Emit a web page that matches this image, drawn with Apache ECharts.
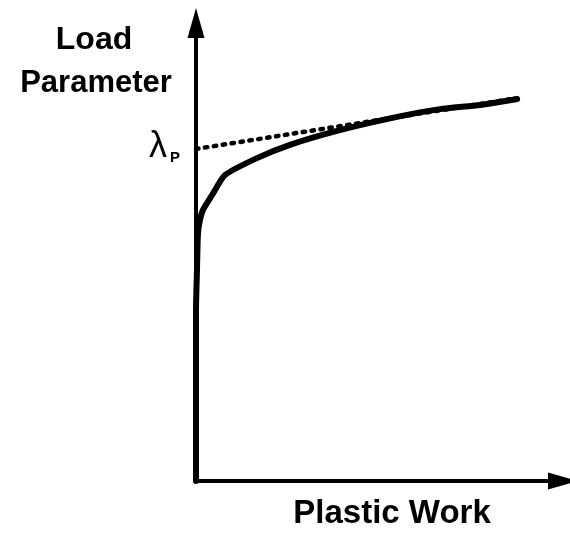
<!DOCTYPE html>
<html>
<head>
<meta charset="utf-8">
<script src="https://cdn.jsdelivr.net/npm/echarts@6/dist/echarts.min.js"></script>
<style>html,body{margin:0;padding:0;background:#fff;}#c{width:570px;height:534px;}</style>
</head>
<body>
<div id="c"></div>
<script>
// Load-parameter vs plastic-work curve (arbitrary units 0..100)
var plasticWork = [0, 0, 0.27, 0.54, 1.09, 1.91, 4.36, 7.9, 16.6, 25.6, 39.2, 54.8, 66.5, 77.4, 87.5];
var loadParam   = [0, 37.3, 46.1, 54.1, 57.0, 59.2, 62.4, 66.8, 70.5, 73.4, 76.6, 79.5, 81.2, 82.1, 83.4];
// Tangent (extrapolated) line giving lambda_P
var tangentX = [0, 87.5];
var tangentY = [72.5, 83.6];
var lambdaP = 72.5;
var xAxisTitle = 'Plastic Work';
var yAxisTitle = ['Load', 'Parameter'];

var chart = echarts.init(document.getElementById('c'), null, {renderer: 'canvas'});
var font = '"Liberation Sans", Arial, sans-serif';
function pairs(xs, ys) { return xs.map(function (x, i) { return [x, ys[i]]; }); }

chart.setOption({
  animation: false,
  backgroundColor: '#ffffff',
  grid: {left: 196, right: 7, top: 23, bottom: 53},
  xAxis: {
    type: 'value', min: 0, max: 100,
    axisLine: {show: true, onZero: false, symbol: ['none', 'triangle'], symbolSize: [17, 30],
      lineStyle: {color: '#000', width: 4}},
    axisTick: {show: false}, axisLabel: {show: false}, splitLine: {show: false}
  },
  yAxis: {
    type: 'value', min: 0, max: 100,
    axisLine: {show: true, onZero: false, symbol: ['none', 'triangle'], symbolSize: [17, 30],
      lineStyle: {color: '#000', width: 4}},
    axisTick: {show: false}, splitLine: {show: false},
    axisLabel: {
      show: true, customValues: [lambdaP], margin: 16,
      formatter: function () { return '{l|λ}{p|P}'; },
      rich: {
        l: {fontFamily: font, fontSize: 36, color: '#000', verticalAlign: 'bottom', lineHeight: 33},
        p: {fontFamily: font, fontSize: 15, fontWeight: 'bold', color: '#000', verticalAlign: 'bottom', lineHeight: 24, padding: [0, 0, 0, 3]}
      }
    }
  },
  graphic: [
    {type: 'text', x: 94, y: 40, style: {text: yAxisTitle[0], font: 'bold 32px ' + font, fill: '#000', align: 'center', verticalAlign: 'middle'}},
    {type: 'text', x: 96, y: 83, style: {text: yAxisTitle[1], font: 'bold 31px ' + font, fill: '#000', align: 'center', verticalAlign: 'middle'}},
    {type: 'text', x: 392, y: 514, style: {text: xAxisTitle, font: 'bold 33px ' + font, fill: '#000', align: 'center', verticalAlign: 'middle'}}
  ],
  series: [
    {
      type: 'line', data: pairs(tangentX, tangentY), symbol: 'none', silent: true,
      lineStyle: {color: '#000', width: 4.5, type: [2.5, 6.5], cap: 'round'}
    },
    {
      type: 'line', data: pairs(plasticWork, loadParam), symbol: 'none', silent: true, smooth: 0.2,
      lineStyle: {color: '#000', width: 6, cap: 'round', join: 'round'}
    }
  ]
});
</script>
</body>
</html>
